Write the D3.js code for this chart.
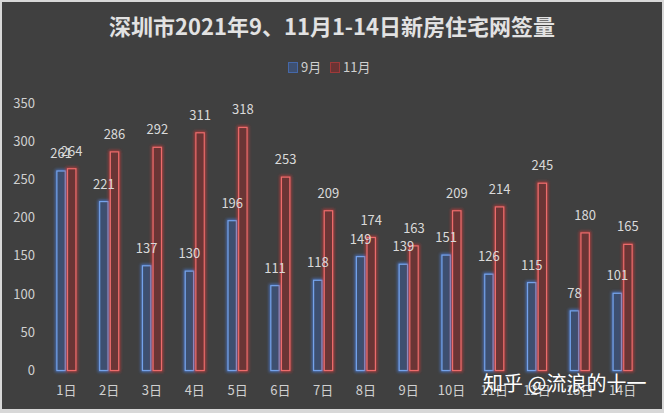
<!DOCTYPE html>
<html>
<head>
<meta charset="utf-8">
<script src="https://cdn.jsdelivr.net/npm/d3@7"></script>
<style>
  body { margin: 0; background: #d8d8d8; }
  svg { display: block; }
  text { font-family: "Noto Sans CJK SC", "Noto Sans", sans-serif; }
</style>
</head>
<body>
<script>
// data
var days = ["1日","2日","3日","4日","5日","6日","7日","8日","9日","10日","11日","12日","13日","14日"];
var series = ["9月", "11月"];
var sep = [261, 221, 137, 130, 196, 111, 118, 149, 139, 151, 126, 115, 78, 101];
var nov = [264, 286, 292, 311, 318, 253, 209, 174, 163, 209, 214, 245, 180, 165];
var yTicks = [0, 50, 100, 150, 200, 250, 300, 350];

var W = 664, H = 413;
var colors = {
    "9月": { fill: "#3e5070", stroke: "#74a2ea", glow: "#4a7fe0" },
    "11月": { fill: "#6a3434", stroke: "#ec6c6c", glow: "#d03838" }
};

var svg = d3.select("body").append("svg")
    .attr("width", W)
    .attr("height", H);

// outer glow per series
var defs = svg.append("defs");
series.forEach(function (s, i) {
    var f = defs.append("filter")
        .attr("id", "glow" + i)
        .attr("x", "-100%").attr("y", "-10%")
        .attr("width", "300%").attr("height", "120%");
    f.append("feMorphology").attr("in", "SourceAlpha").attr("operator", "dilate").attr("radius", 1).attr("result", "d");
    f.append("feGaussianBlur").attr("in", "d").attr("stdDeviation", 1.8).attr("result", "b");
    f.append("feFlood").attr("flood-color", colors[s].glow).attr("flood-opacity", 0.75);
    f.append("feComposite").attr("in2", "b").attr("operator", "in").attr("result", "g");
    var m = f.append("feMerge");
    m.append("feMergeNode").attr("in", "g");
    m.append("feMergeNode").attr("in", "SourceGraphic");
});

// background panel
svg.append("rect")
    .attr("x", 2).attr("y", 2)
    .attr("width", W - 4).attr("height", H - 6)
    .attr("fill", "#404040");

// scales
var x0 = d3.scaleBand().domain(days).range([45, 644]);
var x1 = d3.scaleBand().domain(series).range([-10, 10]).paddingInner(0.12);
var y = d3.scaleLinear().domain([0, 350]).range([370.5, 103]);

// title
svg.append("text")
    .attr("x", W / 2).attr("y", 35)
    .attr("text-anchor", "middle")
    .attr("font-size", 22).attr("font-weight", "bold")
    .attr("fill", "#e2e2e2")
    .text("深圳市2021年9、11月1-14日新房住宅网签量");

// legend
var legendItems = [
    { name: "9月", x: 288 },
    { name: "11月", x: 330 }
];
var lg = svg.append("g").selectAll("g")
    .data(legendItems)
    .enter().append("g")
    .attr("transform", function (d) { return "translate(" + d.x + ",62)"; });
lg.append("rect")
    .attr("x", 0.5).attr("y", 0.5)
    .attr("width", 9).attr("height", 10)
    .attr("fill", function (d) { return colors[d.name].fill; })
    .attr("stroke", function (d) { return colors[d.name].glow; })
    .attr("stroke-opacity", 0.6);
lg.append("text")
    .attr("x", 13).attr("y", 10)
    .attr("font-size", 13)
    .attr("fill", "#d0d0d0")
    .text(function (d) { return d.name; });

// y axis labels
svg.append("g").selectAll("text")
    .data(yTicks)
    .enter().append("text")
    .attr("x", 35)
    .attr("y", function (d) { return y(d); })
    .attr("dy", "0.35em")
    .attr("text-anchor", "end")
    .attr("font-size", 13)
    .attr("fill", "#d0d0d0")
    .text(function (d) { return d; });

// x axis labels
svg.append("g").selectAll("text")
    .data(days)
    .enter().append("text")
    .attr("x", function (d) { return x0(d) + x0.bandwidth() / 2; })
    .attr("y", 395)
    .attr("text-anchor", "middle")
    .attr("font-size", 13)
    .attr("fill", "#d0d0d0")
    .text(function (d) { return d; });

// bars
var rows = [];
days.forEach(function (d, i) {
    rows.push({ day: d, s: "9月", v: sep[i] });
    rows.push({ day: d, s: "11月", v: nov[i] });
});

function bx(d) { return x0(d.day) + x0.bandwidth() / 2 + x1(d.s); }

svg.append("g").selectAll("rect")
    .data(rows)
    .enter().append("rect")
    .attr("x", function (d) { return bx(d) + 0.5; })
    .attr("y", function (d) { return y(d.v); })
    .attr("width", x1.bandwidth() - 1)
    .attr("height", function (d) { return y(0) - y(d.v); })
    .attr("fill", function (d) { return colors[d.s].fill; })
    .attr("stroke", function (d) { return colors[d.s].stroke; })
    .attr("stroke-width", 1.2)
    .attr("filter", function (d) { return "url(#glow" + series.indexOf(d.s) + ")"; });

// value labels
svg.append("g").selectAll("text")
    .data(rows)
    .enter().append("text")
    .attr("x", function (d) { return bx(d) + x1.bandwidth() / 2; })
    .attr("y", function (d) { return y(d.v) - 13; })
    .attr("text-anchor", "middle")
    .attr("font-size", 13)
    .attr("fill", "#dadada")
    .text(function (d) { return d.v; });

// watermark
svg.append("text")
    .attr("x", 483).attr("y", 391)
    .attr("font-size", 20)
    .attr("fill", "#ffffff")
    .text("知乎 @流浪的十一");
</script>
</body>
</html>
